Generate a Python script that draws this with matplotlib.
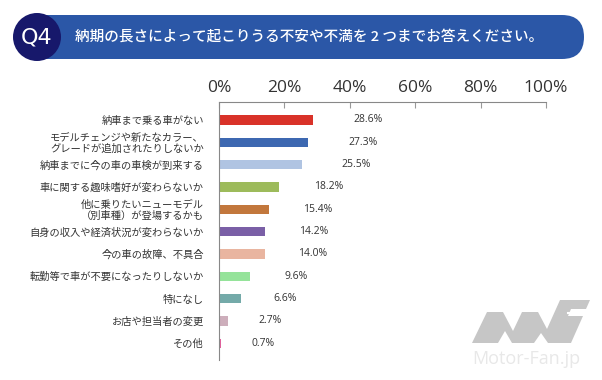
import matplotlib.pyplot as plt
from matplotlib.patches import FancyBboxPatch, Circle, Polygon

plt.rcParams['font.family'] = ['Noto Sans CJK JP', 'DejaVu Sans']

# データ
labels = [
    "納車まで乗る車がない",
    "モデルチェンジや新たなカラー、\nグレードが追加されたりしないか",
    "納車までに今の車の車検が到来する",
    "車に関する趣味嗜好が変わらないか",
    "他に乗りたいニューモデル\n（別車種）が登場するかも",
    "自身の収入や経済状況が変わらないか",
    "今の車の故障、不具合",
    "転勤等で車が不要になったりしないか",
    "特になし",
    "お店や担当者の変更",
    "その他",
]
values = [28.6, 27.3, 25.5, 18.2, 15.4, 14.2, 14.0, 9.6, 6.6, 2.7, 0.7]
colors = ['#D93229', '#3D68B1', '#B0C4E2', '#9DBB5B', '#C2773C', '#7A5FA6',
          '#E9B5A0', '#95E39A', '#74AAA9', '#CDAEBB', '#E45E9D']
xticks = [0, 20, 40, 60, 80, 100]

W, H = 602, 380
fig = plt.figure(figsize=(W / 100, H / 100), dpi=100)

# ヘッダー
hdr = fig.add_axes([0, 0, 1, 1])
hdr.set_xlim(0, W)
hdr.set_ylim(H, 0)
hdr.axis('off')
hdr.add_patch(FancyBboxPatch((18, 15), 566, 44, boxstyle="round,pad=0,rounding_size=22",
                             fc='#2B57A7', ec='none'))
hdr.add_patch(Circle((37, 37), 24, fc='#17186B', ec='none'))
hdr.text(37, 38, 'Q4', color='white', fontsize=16, ha='center', va='center',
         family=['DejaVu Sans Condensed', 'DejaVu Sans'])
hdr.text(75, 37, '納期の長さによって起こりうる不安や不満を 2 つまでお答えください。',
         color='white', fontsize=10.5, ha='left', va='center', fontweight='medium')

# ウォーターマーク
hdr.add_patch(Polygon([(472, 343), (487, 312), (503, 312), (513, 331), (522, 312),
                       (538, 312), (547, 329), (560, 300), (590, 300), (586, 309),
                       (571, 309), (568, 316), (583, 316), (571, 343), (548, 343),
                       (541, 333), (534, 343), (512, 343), (505, 331), (498, 343)],
                      closed=True, fc='#C6C6C6', ec='none'))
hdr.plot([568, 583], [312.5, 312.5], color='white', lw=1.5)
hdr.text(526, 359, 'Motor-Fan.jp', color='#E8E8E8', fontsize=13, ha='center', va='center',
         family=['Open Sans', 'DejaVu Sans'])

# グラフ本体
ax = fig.add_axes([219 / W, 1 - 360 / H, (546 - 219) / W, (360 - 102) / H])
ax.patch.set_visible(False)
y = list(range(len(values)))
ax.barh(y, values, height=0.42, color=colors)
ax.set_xlim(0, 100)
ax.set_ylim(len(values) - 0.25, -0.8)
ax.set_yticks(y)
ax.set_yticklabels(labels, fontsize=7.4, color='#333333', linespacing=1.05)
ax.tick_params(axis='y', length=0, pad=11)
ax.xaxis.tick_top()
ax.set_xticks(xticks)
ax.set_xticklabels([f'{t}%' for t in xticks], fontsize=12.5, color='#333333',
                   family=['Open Sans', 'DejaVu Sans'])
ax.tick_params(axis='x', direction='in', length=4, color='#999999', pad=4)
for s in ['right', 'bottom']:
    ax.spines[s].set_visible(False)
for s in ['left', 'top']:
    ax.spines[s].set_color('#888888')
    ax.spines[s].set_linewidth(0.8)

for yi, v in zip(y, values):
    ax.annotate(f'{v:.1f}%', (v, yi), xytext=(29.5 + 0.36 * v, 0), textcoords='offset points',
                ha='center', va='center', fontsize=7.5, color='#333333',
                family=['Open Sans', 'DejaVu Sans'])

fig.savefig('out.png', dpi=100)
